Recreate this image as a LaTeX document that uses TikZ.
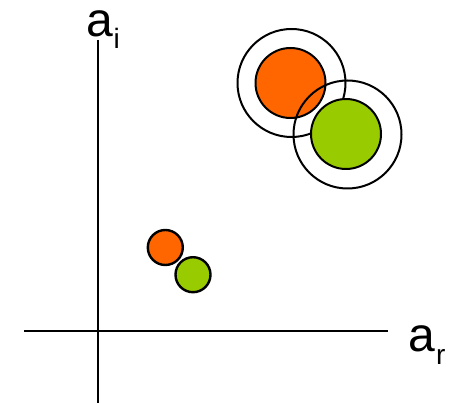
\documentclass[tikz,border=0pt]{standalone}
\usepackage{fontspec}
\setmainfont{Liberation Sans}
\definecolor{dotorange}{HTML}{FF6600}
\definecolor{dotgreen}{HTML}{99CC00}
\begin{document}
\begin{tikzpicture}[x=1pt,y=-1pt,
  axis/.style={line width=2pt,black},
  ring/.style={circle,draw=black,line width=2pt,inner sep=0pt,minimum size=#1},
  bigdot/.style={circle,draw=black,line width=2pt,inner sep=0pt,minimum size=#1},
  smalldot/.style={circle,draw=black,line width=2.4pt,inner sep=0pt,minimum size=#1},
  lbl/.style={anchor=base west,inner sep=0pt,font=\fontsize{48}{50}\selectfont},
  sub/.style={anchor=base west,inner sep=0pt,font=\fontsize{28}{30}\selectfont}]
\useasboundingbox (0,0) rectangle (450,403);
\coordinate (vt) at (98,40);
\coordinate (vb) at (98,403);
\coordinate (hl) at (24,331);
\coordinate (hr) at (388,331);
\draw[axis] (vt) -- (vb);
\draw[axis] (hl) -- (hr);
\node[lbl] (ai) at (86.5,37) {a};
\node[sub] (ais) at (113.5,49) {i};
\node[lbl] (ar) at (408.5,352) {a};
\node[sub] (ars) at (436,365) {r};
\node[ring=108pt] (oring) at (291.5,83) {};
\node[bigdot=70pt,fill=dotorange] (odot) at (290.5,83) {};
\node[ring=108pt] (gring) at (347.5,134.5) {};
\node[bigdot=70pt,fill=dotgreen] (gdot) at (346,134) {};
\node[smalldot=35pt,fill=dotorange] (os) at (165.3,247.5) {};
\node[smalldot=35pt,fill=dotgreen] (gs) at (193,274.7) {};
\end{tikzpicture}
\end{document}
